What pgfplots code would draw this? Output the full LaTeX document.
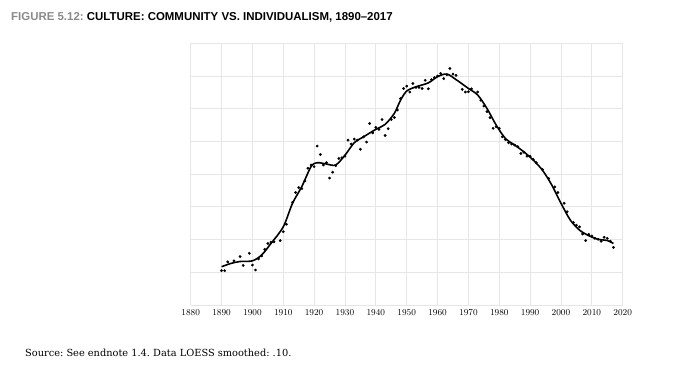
\documentclass[border=0pt]{standalone}
\usepackage{pgfplots}
\pgfplotsset{compat=1.18}
\usepackage{fontspec}
\setmainfont{Liberation Sans}
\newfontfamily\titlefont{Liberation Sans}
\newfontfamily\srcfont{DejaVu Serif}
\definecolor{gridgray}{HTML}{E6E6E6}
\definecolor{figgray}{HTML}{8A8A8A}
\frenchspacing
\begin{document}
\begin{tikzpicture}[x=1pt,y=1pt]
\path[use as bounding box] (0,0) rectangle (696,378);
\node[anchor=base west,inner sep=0pt] at (11,357) {\titlefont\bfseries\fontsize{11.45}{13}\selectfont\textcolor{figgray}{FIGURE 5.12:} CULTURE: COMMUNITY VS. INDIVIDUALISM, 1890–2017};
\node[anchor=base west,inner sep=0pt] at (25,22) {\srcfont\fontsize{9.8}{11}\selectfont Source: See endnote 1.4. Data LOESS smoothed: .10.};
\begin{axis}[
  at={(190.7pt,73pt)}, anchor=south west,
  scale only axis, width=432pt, height=261.7pt,
  xmin=1880, xmax=2020, ymin=0, ymax=8,
  xtick={1880,1890,...,2020},
  ytick={0,1,...,8}, yticklabels={},
  x tick label style={/pgf/number format/1000 sep={}, font=\fontsize{9}{10}\selectfont, yshift=-1pt},
  major tick length=0pt,
  grid=major,
  major grid style={draw=gridgray, line width=0.8pt},
  axis line style={draw=none},
  clip=false,
]
\addplot[only marks, mark=*, mark size=1.2pt, black] coordinates {
(1890,1.05)(1891,1.05)(1892,1.32)(1894,1.35)(1896,1.48)(1897,1.21)(1899,1.58)(1900,1.22)
(1901,1.07)(1902,1.41)(1903,1.50)(1904,1.70)(1905,1.88)(1906,1.92)(1907,1.93)(1909,1.97)
(1910,2.24)(1911,2.47)(1913,3.14)(1914,3.44)(1915,3.59)(1916,3.56)(1917,3.79)(1918,4.18)
(1919,4.28)(1920,4.23)(1921,4.86)(1922,4.60)(1923,4.28)(1924,4.35)(1925,3.88)(1926,4.06)
(1927,4.26)(1928,4.48)(1929,4.50)(1930,4.55)(1931,5.04)(1932,4.92)(1933,5.07)(1934,5.04)
(1935,4.76)(1936,5.14)(1937,4.98)(1938,5.55)(1939,5.26)(1940,5.43)(1941,5.37)(1942,5.67)
(1943,5.18)(1944,5.39)(1945,5.67)(1946,5.73)(1947,5.96)(1948,6.31)(1949,6.62)(1950,6.69)
(1951,6.51)(1952,6.77)(1953,6.65)(1954,6.65)(1955,6.62)(1956,6.87)(1957,6.61)(1958,6.89)
(1959,6.95)(1960,7.00)(1961,7.08)(1962,6.92)(1963,7.04)(1964,7.23)(1965,7.06)(1966,7.02)
(1968,6.59)(1969,6.51)(1970,6.52)(1971,6.61)(1973,6.51)(1974,6.26)(1975,6.08)(1976,5.91)
(1977,5.73)(1978,5.40)(1979,5.45)(1980,5.40)(1981,5.14)(1982,5.06)(1983,4.96)(1984,4.92)
(1985,4.89)(1986,4.84)(1987,4.63)(1988,4.67)(1989,4.55)(1990,4.55)(1991,4.45)(1992,4.35)
(1994,4.14)(1996,3.87)(1998,3.61)(1999,3.44)(2001,3.11)(2002,2.85)(2004,2.52)(2005,2.44)
(2006,2.39)(2007,2.17)(2008,1.97)(2009,2.16)(2010,2.11)(2011,2.04)(2012,2.01)(2013,1.95)
(2014,2.07)(2015,2.04)(2016,1.95)(2017,1.76)
};
\addplot[black, line width=1.6pt, smooth, tension=0.5] coordinates {
(1890,1.17)(1893,1.27)(1896,1.33)(1900,1.35)(1903,1.53)(1906,1.88)(1910,2.39)(1913,3.11)
(1916,3.62)(1919,4.23)(1921,4.35)(1924,4.31)(1927,4.28)(1930,4.58)(1933,4.96)(1936,5.14)
(1940,5.37)(1943,5.52)(1946,5.86)(1948,6.26)(1950,6.54)(1953,6.67)(1957,6.79)(1960,6.98)
(1963,7.06)(1966,6.89)(1970,6.62)(1973,6.42)(1976,6.01)(1979,5.50)(1982,5.09)(1985,4.89)
(1988,4.68)(1991,4.43)(1994,4.12)(1997,3.67)(2000,3.11)(2003,2.60)(2006,2.29)(2009,2.12)
(2012,2.01)(2015,1.97)(2017,1.88)
};
\end{axis}
\end{tikzpicture}
\end{document}
